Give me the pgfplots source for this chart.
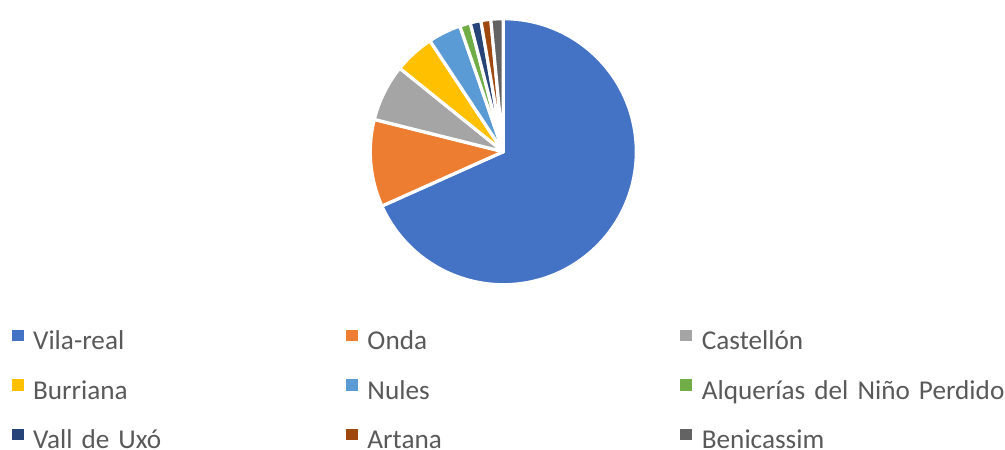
\documentclass[border=0pt]{standalone}
\usepackage{pgfplots}
\pgfplotsset{compat=1.18}
\usepackage{pgfplotstable}
\usepackage{fontspec}
\setmainfont{Carlito}
\definecolor{c1}{HTML}{4472C4}
\definecolor{c2}{HTML}{ED7D31}
\definecolor{c3}{HTML}{A5A5A5}
\definecolor{c4}{HTML}{FFC000}
\definecolor{c5}{HTML}{5B9BD5}
\definecolor{c6}{HTML}{70AD47}
\definecolor{c7}{HTML}{264478}
\definecolor{c8}{HTML}{9E480E}
\definecolor{c9}{HTML}{636363}
\definecolor{txt}{HTML}{595959}
\pgfplotstableread[col sep=comma]{
city,value,color
Vila-real,68.3,c1
Onda,10.6,c2
Castellón,6.9,c3
Burriana,4.9,c4
Nules,4.0,c5
Alquerías del Niño Perdido,1.3,c6
Vall de Uxó,1.3,c7
Artana,1.2,c8
Benicassim,1.5,c9
}\piedata
\begin{document}
\begin{tikzpicture}
\useasboundingbox (0,0) rectangle (1005bp,450bp);
\begin{axis}[
  at={(0,0)}, anchor=south west,
  scale only axis, width=1005bp, height=450bp,
  xmin=0, xmax=1005, ymin=0, ymax=450,
  hide axis, clip=false,
  legend columns=3,
  legend style={draw=none, fill=none, inner sep=0pt, outer sep=0pt,
    at={(axis cs:11.7,120.5)}, anchor=north west,
    font=\fontsize{27.3}{31}\selectfont, text=txt,
    nodes={inner sep=0pt, text width=313bp, align=left, text height=20bp, text depth=6bp},
    row sep=23.4bp,
    /tikz/every odd column/.style={column sep=10bp},
    /tikz/every even column/.style={column sep=0bp}},
]
\def\cum{0}
\pgfplotsforeachungrouped \i in {0,...,8}{%
  \pgfplotstablegetelem{\i}{value}\of\piedata \let\v\pgfplotsretval
  \pgfplotstablegetelem{\i}{color}\of\piedata \let\c\pgfplotsretval
  \pgfmathsetmacro\startang{90-\cum*3.6}%
  \pgfmathsetmacro\endang{90-(\cum+\v)*3.6}%
  \edef\temp{\noexpand\filldraw[fill=\c, draw=white, line width=3.2bp, line join=round] (axis cs:503.3,298.3) -- ++(\startang:133bp) arc[start angle=\startang, end angle=\endang, radius=133bp] -- cycle;}%
  \temp
  \pgfmathsetmacro\cum{\cum+\v}%
}
\pgfplotsforeachungrouped \c in {c1,c2,c3,c4,c5,c6,c7,c8,c9}{%
  \edef\temp{\noexpand\addlegendimage{legend image code/.code={\noexpand\fill[\c] (0bp,2.6bp) rectangle (11bp,13bp);}}}%
  \temp
}
\legend{Vila-real,Onda,Castellón,Burriana,Nules,Alquerías del Niño Perdido,Vall de Uxó,Artana,Benicassim}
\end{axis}
\end{tikzpicture}
\end{document}
